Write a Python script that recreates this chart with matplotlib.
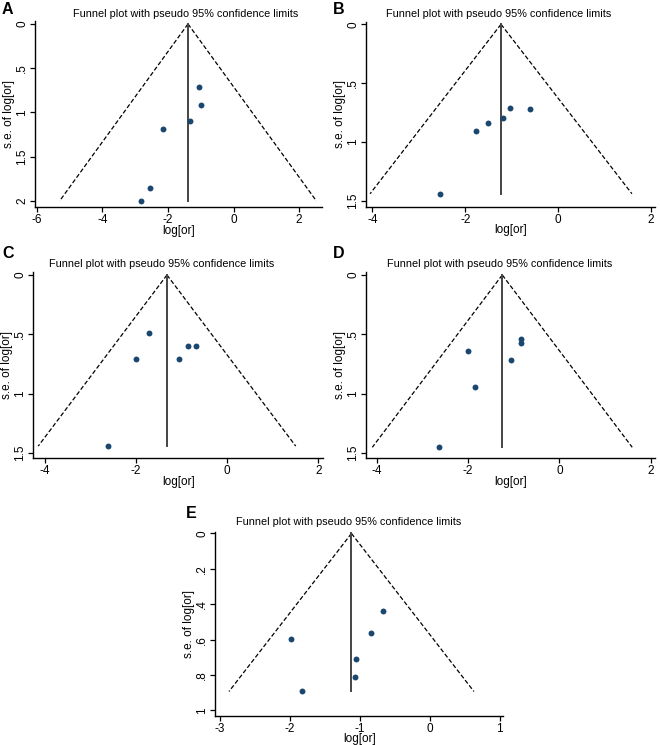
import numpy as np
import matplotlib.pyplot as plt

plt.rcParams['font.family'] = ['Liberation Sans', 'DejaVu Sans']

# log odds ratio and its standard error for each study, per panel
a_logor = [-1.04, -0.98, -1.34, -2.15, -2.56, -2.83]
a_se = [0.715, 0.92, 1.10, 1.19, 1.857, 2.0]
a_pooled = -1.39

b_logor = [-1.03, -0.60, -1.18, -1.52, -1.77, -2.54]
b_se = [0.71, 0.716, 0.80, 0.838, 0.906, 1.44]
b_pooled = -1.23

c_logor = [-1.71, -2.00, -1.06, -0.854, -0.686, -2.61]
c_se = [0.487, 0.71, 0.71, 0.594, 0.594, 1.44]
c_pooled = -1.32

d_logor = [-0.84, -0.85, -1.06, -2.01, -1.84, -2.63]
d_se = [0.54, 0.573, 0.716, 0.64, 0.944, 1.45]
d_pooled = -1.25

e_logor = [-0.676, -0.843, -1.986, -1.052, -1.067, -1.824]
e_se = [0.438, 0.564, 0.596, 0.712, 0.81, 0.893]
e_pooled = -1.12

W, H = 660, 745
fig = plt.figure(figsize=(W / 100, H / 100), dpi=100)


def fmt(v):
    s = ('%g' % v)
    if s.startswith('0.'):
        s = s[1:]
    return s


def funnel(letter, box, logor, se, pooled, xlim, ylim, xticks, yticks, title_xy, letter_xy):
    l, t, r, b = box
    ax = fig.add_axes([l / W, 1 - b / H, (r - l) / W, (b - t) / H])
    semax = max(se)
    dash = (0, (3.5, 1.8))
    ax.plot([pooled, pooled - 1.96 * semax], [0, semax], color='black', lw=0.9, ls=dash)
    ax.plot([pooled, pooled + 1.96 * semax], [0, semax], color='black', lw=0.9, ls=dash)
    ax.plot([pooled, pooled], [0, semax], color='#444444', lw=1.4)
    ax.scatter(logor, se, s=18, color='#1a476f', zorder=3, linewidths=0)
    ax.set_xlim(xlim)
    ax.set_ylim(ylim)
    ax.set_xticks(xticks)
    ax.set_xticklabels([fmt(v) for v in xticks])
    ax.set_yticks(yticks)
    ax.set_yticklabels([fmt(v) for v in yticks], rotation=90, va='center')
    ax.tick_params(length=3.5, width=0.9, labelsize=8.5, pad=1.5)
    for sp in ['top', 'right']:
        ax.spines[sp].set_visible(False)
    for sp in ['left', 'bottom']:
        ax.spines[sp].set_linewidth(1.0)
    ax.set_xlabel('log[or]', fontsize=8.5, labelpad=-1)
    ax.set_ylabel('s.e. of log[or]', fontsize=8.5, labelpad=1)
    fig.text(title_xy[0] / W, 1 - title_xy[1] / H,
             'Funnel plot with pseudo 95% confidence limits',
             ha='center', va='center', fontsize=7.8)
    fig.text(letter_xy[0] / W, 1 - letter_xy[1] / H, letter,
             ha='left', va='center', fontsize=11.5, fontweight='bold')
    return ax


funnel('A', (35, 21.3, 322, 207.2), a_logor, a_se, a_pooled,
       (-6.06, 2.70), (2.07, -0.03), [-6, -4, -2, 0, 2], [0, 0.5, 1, 1.5, 2],
       (185.5, 14), (2, 10))
funnel('B', (366, 21.7, 655, 206.7), b_logor, b_se, b_pooled,
       (-4.14, 2.09), (1.55, -0.022), [-4, -2, 0, 2], [0, 0.5, 1, 1.5],
       (498.8, 14), (333, 10))
funnel('C', (33.3, 272, 323, 458), c_logor, c_se, c_pooled,
       (-4.25, 2.10), (1.54, -0.025), [-4, -2, 0, 2], [0, 0.5, 1, 1.5],
       (161.2, 264), (2, 253))
funnel('D', (366, 272, 655, 458), d_logor, d_se, d_pooled,
       (-4.23, 2.09), (1.54, -0.025), [-4, -2, 0, 2], [0, 0.5, 1, 1.5],
       (499.8, 264), (333, 253))
funnel('E', (215, 531.7, 503.3, 715.7), e_logor, e_se, e_pooled,
       (-3.07, 1.05), (1.03, -0.01), [-3, -2, -1, 0, 1], [0, 0.2, 0.4, 0.6, 0.8, 1],
       (348.8, 522), (186, 513))

fig.savefig('out.png', dpi=100)
